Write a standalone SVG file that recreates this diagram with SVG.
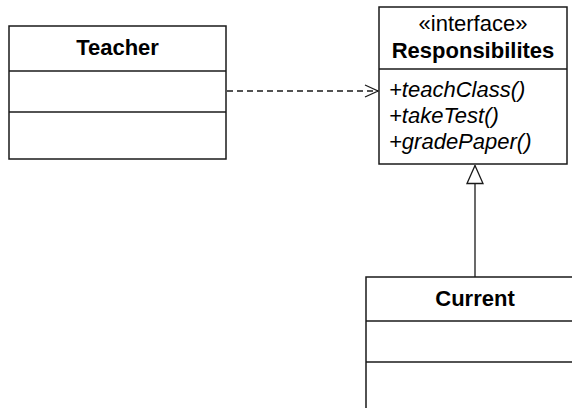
<svg xmlns="http://www.w3.org/2000/svg" width="572" height="408" viewBox="0 0 572 408">
<style>
.box{fill:#fff;stroke:#1a1a1a;stroke-width:1.5}
.div{stroke:#1a1a1a;stroke-width:1.5}
.t{font-family:"Liberation Sans",Arial,sans-serif;font-size:22px;fill:#000}
.b{font-weight:bold}
.i{font-style:italic}
.c{text-anchor:middle}
.con{fill:none;stroke:#1a1a1a;stroke-width:1.3}
</style>
<defs>
<marker id="open" markerWidth="16" markerHeight="16" refX="14" refY="8" orient="auto" markerUnits="userSpaceOnUse">
<path d="M1,2 L14,8 L1,14" fill="none" stroke="#1a1a1a" stroke-width="1.3"/>
</marker>
<marker id="tri" markerWidth="20" markerHeight="20" refX="19" refY="9" orient="auto" markerUnits="userSpaceOnUse">
<path d="M1,1 L19,9 L1,17 Z" fill="#fff" stroke="#1a1a1a" stroke-width="1.3"/>
</marker>
</defs>
<g id="connectors">
<line class="con" x1="227" y1="91" x2="378" y2="91" stroke-dasharray="6,4" marker-end="url(#open)"/>
<line class="con" x1="475" y1="277" x2="475" y2="165.5" marker-end="url(#tri)"/>
</g>
<g id="teacher">
<rect class="box" x="9" y="26" width="217" height="133"/>
<line class="div" x1="9" y1="71" x2="226" y2="71"/>
<line class="div" x1="9" y1="112" x2="226" y2="112"/>
<text class="t b c" x="117.5" y="55">Teacher</text>
</g>
<g id="responsibilites">
<rect class="box" x="379" y="7" width="188" height="157"/>
<line class="div" x1="379" y1="69" x2="567" y2="69"/>
<text class="t c" x="473" y="31">«interface»</text>
<text class="t b c" x="473" y="58">Responsibilites</text>
<text class="t i" x="389" y="97">+teachClass()</text>
<text class="t i" x="389" y="123">+takeTest()</text>
<text class="t i" x="389" y="149">+gradePaper()</text>
</g>
<g id="current">
<rect class="box" x="366" y="277" width="218" height="140"/>
<line class="div" x1="366" y1="321" x2="584" y2="321"/>
<line class="div" x1="366" y1="362" x2="584" y2="362"/>
<text class="t b c" x="475" y="306">Current</text>
</g>
</svg>
